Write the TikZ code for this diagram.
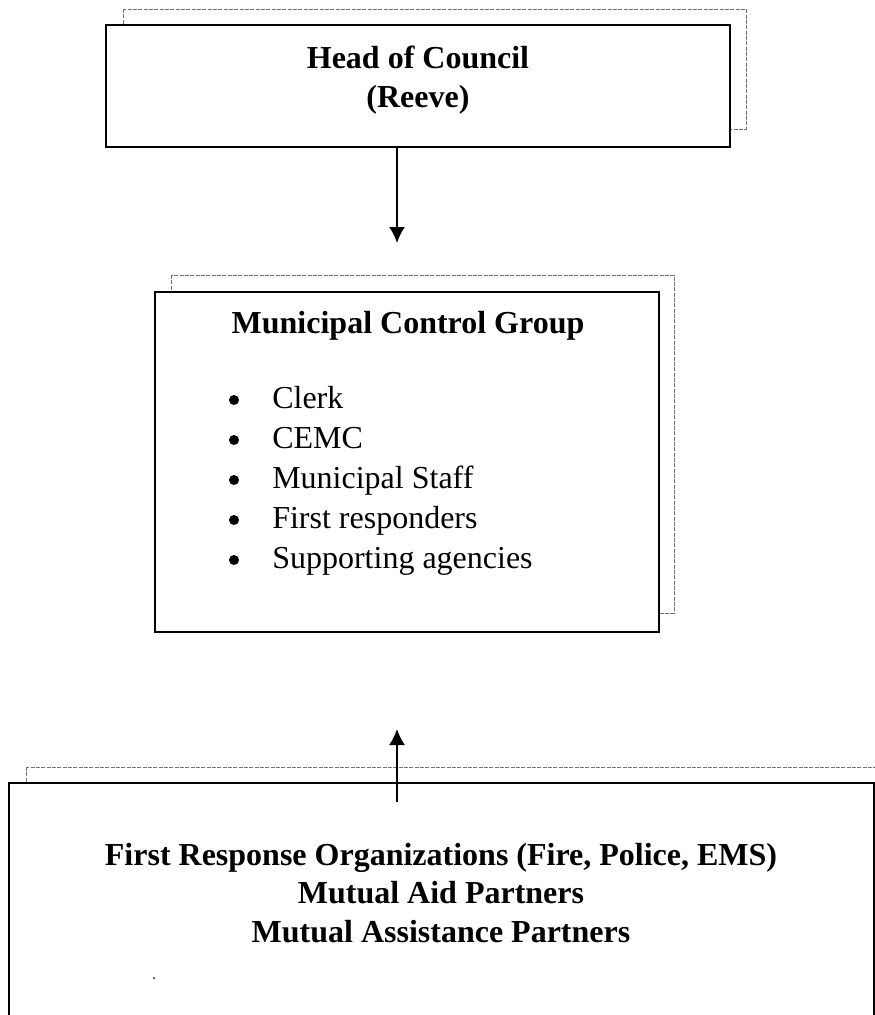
\documentclass[tikz,border=0pt]{standalone}
\usepackage{fontspec}
\setmainfont{Liberation Serif}
\usetikzlibrary{arrows.meta}

\begin{document}
\begin{tikzpicture}[x=0.75pt,y=-0.75pt,>={Latex[length=12pt,width=12pt]}]
		\tikzstyle{BOX} = [draw=black, line width=1.5pt, fill=white, inner sep=0pt]
		\tikzstyle{shade} = [draw=black!55, line width=0.5pt, dash pattern=on 3pt off 1pt]
		\tikzstyle{title} = [font=\fontsize{24}{29}\selectfont\bfseries, align=center, inner sep=0pt]
		\tikzstyle{entry} = [font=\fontsize{24}{30}\selectfont, inner sep=0pt]
		\tikzstyle{dot} = [circle, fill=black, inner sep=0pt, minimum size=7.5pt]

		\useasboundingbox (0,0) rectangle (875,1015);
		\clip (0,0) rectangle (875,1015);

		% head of council
		\draw[shade] (123,9) rectangle (746,129);
		\node[BOX, minimum width=468pt, minimum height=91.5pt] (head) at 	(418,86) {};
		\node[title] (headTxt) at 		(418,80) {Head of Council\\(Reeve)};

		% control group
		\draw[shade] (171,275) rectangle (674,613);
		\node[BOX, minimum width=378pt, minimum height=255pt] (group) at 	(407,462) {};
		\node[title, anchor=base] (groupTxt) at 	(408,333) {Municipal Control Group};
		\foreach \i/\t in {0/Clerk, 1/CEMC, 2/Municipal Staff, 3/First responders, 4/Supporting agencies} {
			\node[dot] (bul\i) at 		(234,400+40*\i) {};
			\node[entry, anchor=base west] (item\i) at 	(272,408+40*\i) {\t};
		}

		% response organizations
		\draw[shade] (26,767) rectangle (900,1100);
		\node[BOX, minimum width=648.75pt, minimum height=192.75pt] (front) at 	(441.5,911.5) {};
		\node[title] (frontTxt) at 		(441,893) {First Response Organizations (Fire, Police, EMS)\\Mutual Aid Partners\\Mutual Assistance Partners};
		\fill (154,978) circle (1);

		% arrows
		\coordinate (tipDown) at (397,243);
		\coordinate (tailUp) at (397,802);
		\coordinate (tipUp) at (397,729);
		\draw[->, line width=1.5pt] (tipDown |- head.south) -- (tipDown);
		\draw[->, line width=1.5pt] (tailUp) -- (tipUp);
\end{tikzpicture}
\end{document}
